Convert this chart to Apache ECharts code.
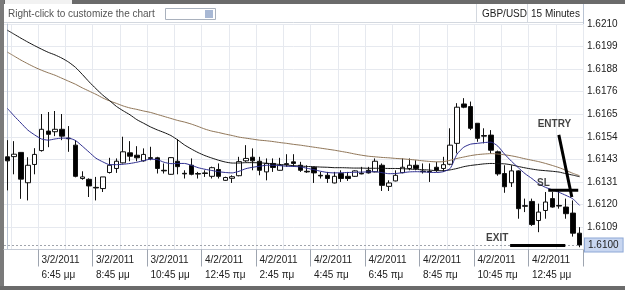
<!DOCTYPE html>
<html>
<head>
<meta charset="utf-8">
<script src="https://cdn.jsdelivr.net/npm/echarts@6/dist/echarts.min.js"></script>
<style>
html, body { margin: 0; padding: 0; background: #fff; }
#chart { width: 625px; height: 290px; }
</style>
</head>
<body>
<div id="chart"></div>
<script>
// GBP/USD, 15 minute bars
var times = [
	'3/2/2011 5:30 μμ', '3/2/2011 5:45 μμ', '3/2/2011 6:00 μμ', '3/2/2011 6:15 μμ', '3/2/2011 6:30 μμ', '3/2/2011 6:45 μμ', '3/2/2011 7:00 μμ', '3/2/2011 7:15 μμ',
	'3/2/2011 7:30 μμ', '3/2/2011 7:45 μμ', '3/2/2011 8:00 μμ', '3/2/2011 8:15 μμ', '3/2/2011 8:30 μμ', '3/2/2011 8:45 μμ', '3/2/2011 9:00 μμ', '3/2/2011 9:15 μμ',
	'3/2/2011 9:30 μμ', '3/2/2011 9:45 μμ', '3/2/2011 10:00 μμ', '3/2/2011 10:15 μμ', '3/2/2011 10:30 μμ', '3/2/2011 10:45 μμ', '3/2/2011 11:00 μμ', '3/2/2011 11:15 μμ',
	'3/2/2011 11:30 μμ', '3/2/2011 11:45 μμ', '4/2/2011 12:00 πμ', '4/2/2011 12:15 πμ', '4/2/2011 12:30 πμ', '4/2/2011 12:45 πμ', '4/2/2011 1:00 πμ', '4/2/2011 1:15 πμ',
	'4/2/2011 1:30 πμ', '4/2/2011 1:45 πμ', '4/2/2011 2:00 πμ', '4/2/2011 2:15 πμ', '4/2/2011 2:30 πμ', '4/2/2011 2:45 πμ', '4/2/2011 3:00 πμ', '4/2/2011 3:15 πμ',
	'4/2/2011 3:30 πμ', '4/2/2011 3:45 πμ', '4/2/2011 4:00 πμ', '4/2/2011 4:15 πμ', '4/2/2011 4:30 πμ', '4/2/2011 4:45 πμ', '4/2/2011 5:00 πμ', '4/2/2011 5:15 πμ',
	'4/2/2011 5:30 πμ', '4/2/2011 5:45 πμ', '4/2/2011 6:00 πμ', '4/2/2011 6:15 πμ', '4/2/2011 6:30 πμ', '4/2/2011 6:45 πμ', '4/2/2011 7:00 πμ', '4/2/2011 7:15 πμ',
	'4/2/2011 7:30 πμ', '4/2/2011 7:45 πμ', '4/2/2011 8:00 πμ', '4/2/2011 8:15 πμ', '4/2/2011 8:30 πμ', '4/2/2011 8:45 πμ', '4/2/2011 9:00 πμ', '4/2/2011 9:15 πμ',
	'4/2/2011 9:30 πμ', '4/2/2011 9:45 πμ', '4/2/2011 10:00 πμ', '4/2/2011 10:15 πμ', '4/2/2011 10:30 πμ', '4/2/2011 10:45 πμ', '4/2/2011 11:00 πμ', '4/2/2011 11:15 πμ',
	'4/2/2011 11:30 πμ', '4/2/2011 11:45 πμ', '4/2/2011 12:00 μμ', '4/2/2011 12:15 μμ', '4/2/2011 12:30 μμ', '4/2/2011 12:45 μμ', '4/2/2011 1:00 μμ', '4/2/2011 1:15 μμ',
	'4/2/2011 1:30 μμ', '4/2/2011 1:45 μμ', '4/2/2011 2:00 μμ', '4/2/2011 2:15 μμ', '4/2/2011 2:30 μμ'
];

// [open, close, low, high]
var candles = [
	[1.61439, 1.61419, 1.61272, 1.61522], [1.61440, 1.61452, 1.61352, 1.61517], [1.61461, 1.61328, 1.61230, 1.61462], [1.61310, 1.61397, 1.61222, 1.61437],
	[1.61401, 1.61451, 1.61352, 1.61482], [1.61470, 1.61576, 1.61465, 1.61652], [1.61567, 1.61551, 1.61487, 1.61662], [1.61564, 1.61576, 1.61542, 1.61667],
	[1.61576, 1.61542, 1.61522, 1.61652], [1.61532, 1.61529, 1.61464, 1.61592], [1.61497, 1.61342, 1.61337, 1.61522], [1.61331, 1.61339, 1.61325, 1.61367],
	[1.61327, 1.61294, 1.61239, 1.61332], [1.61287, 1.61284, 1.61222, 1.61339], [1.61281, 1.61339, 1.61264, 1.61339], [1.61361, 1.61397, 1.61356, 1.61434],
	[1.61381, 1.61417, 1.61359, 1.61431], [1.61409, 1.61464, 1.61406, 1.61539], [1.61459, 1.61442, 1.61417, 1.61517], [1.61447, 1.61434, 1.61417, 1.61492],
	[1.61419, 1.61451, 1.61415, 1.61481], [1.61435, 1.61431, 1.61422, 1.61489], [1.61434, 1.61381, 1.61356, 1.61439], [1.61372, 1.61369, 1.61356, 1.61406],
	[1.61352, 1.61435, 1.61350, 1.61437], [1.61417, 1.61390, 1.61352, 1.61527], [1.61357, 1.61354, 1.61331, 1.61372], [1.61397, 1.61352, 1.61347, 1.61431],
	[1.61356, 1.61353, 1.61331, 1.61364], [1.61359, 1.61356, 1.61339, 1.61372], [1.61342, 1.61385, 1.61331, 1.61390], [1.61376, 1.61342, 1.61331, 1.61406],
	[1.61322, 1.61336, 1.61319, 1.61340], [1.61332, 1.61340, 1.61309, 1.61347], [1.61345, 1.61415, 1.61342, 1.61439], [1.61419, 1.61431, 1.61414, 1.61497],
	[1.61437, 1.61419, 1.61372, 1.61481], [1.61417, 1.61372, 1.61347, 1.61439], [1.61364, 1.61406, 1.61322, 1.61431], [1.61406, 1.61386, 1.61364, 1.61431],
	[1.61372, 1.61397, 1.61370, 1.61434], [1.61405, 1.61401, 1.61389, 1.61452], [1.61414, 1.61406, 1.61389, 1.61452], [1.61397, 1.61372, 1.61364, 1.61414],
	[1.61367, 1.61364, 1.61359, 1.61397], [1.61387, 1.61359, 1.61309, 1.61389], [1.61347, 1.61344, 1.61331, 1.61364], [1.61347, 1.61331, 1.61309, 1.61364],
	[1.61309, 1.61342, 1.61307, 1.61364], [1.61356, 1.61331, 1.61314, 1.61372], [1.61342, 1.61331, 1.61319, 1.61364], [1.61342, 1.61369, 1.61339, 1.61372],
	[1.61357, 1.61354, 1.61352, 1.61389], [1.61372, 1.61359, 1.61356, 1.61389], [1.61364, 1.61417, 1.61362, 1.61431], [1.61397, 1.61297, 1.61269, 1.61406],
	[1.61292, 1.61309, 1.61269, 1.61322], [1.61319, 1.61347, 1.61317, 1.61372], [1.61360, 1.61387, 1.61357, 1.61431], [1.61381, 1.61397, 1.61372, 1.61431],
	[1.61397, 1.61381, 1.61372, 1.61422], [1.61368, 1.61365, 1.61356, 1.61406], [1.61366, 1.61363, 1.61314, 1.61406], [1.61387, 1.61372, 1.61364, 1.61414],
	[1.61381, 1.61400, 1.61364, 1.61439], [1.61402, 1.61497, 1.61397, 1.61581], [1.61506, 1.61686, 1.61456, 1.61706], [1.61702, 1.61686, 1.61681, 1.61731],
	[1.61689, 1.61581, 1.61572, 1.61714], [1.61606, 1.61531, 1.61514, 1.61607], [1.61545, 1.61542, 1.61506, 1.61581], [1.61547, 1.61472, 1.61456, 1.61572],
	[1.61464, 1.61354, 1.61345, 1.61470], [1.61356, 1.61290, 1.61260, 1.61397], [1.61310, 1.61369, 1.61289, 1.61397], [1.61369, 1.61181, 1.61131, 1.61372],
	[1.61196, 1.61193, 1.61164, 1.61231], [1.61217, 1.61102, 1.61095, 1.61231], [1.61122, 1.61164, 1.61064, 1.61206], [1.61172, 1.61214, 1.61131, 1.61264],
	[1.61231, 1.61189, 1.61186, 1.61264], [1.61197, 1.61194, 1.61181, 1.61272], [1.61189, 1.61156, 1.61131, 1.61231], [1.61159, 1.61059, 1.61042, 1.61222],
	[1.61059, 1.61000, 1.60989, 1.61089]
];

// moving averages
var maFast = [
	1.61680, 1.61642, 1.61607, 1.61572, 1.61548, 1.61528, 1.61522, 1.61528, 1.61532, 1.61532,
	1.61520, 1.61492, 1.61462, 1.61432, 1.61414, 1.61400, 1.61400, 1.61402, 1.61406, 1.61412,
	1.61420, 1.61427, 1.61425, 1.61412, 1.61405, 1.61406, 1.61406, 1.61397, 1.61385, 1.61377,
	1.61371, 1.61365, 1.61361, 1.61359, 1.61367, 1.61380, 1.61387, 1.61392, 1.61397, 1.61397,
	1.61395, 1.61392, 1.61391, 1.61389, 1.61382, 1.61375, 1.61367, 1.61361, 1.61359, 1.61360,
	1.61361, 1.61362, 1.61363, 1.61364, 1.61365, 1.61360, 1.61355, 1.61356, 1.61360, 1.61364,
	1.61365, 1.61364, 1.61362, 1.61361, 1.61365, 1.61381, 1.61452, 1.61487, 1.61502, 1.61506,
	1.61510, 1.61512, 1.61492, 1.61452, 1.61417, 1.61385, 1.61355, 1.61331, 1.61305, 1.61287,
	1.61275, 1.61262, 1.61247, 1.61230, 1.61197
];
var maMid = [
	1.62069, 1.62049, 1.62029, 1.62010, 1.61992, 1.61975, 1.61959, 1.61946, 1.61930, 1.61910,
	1.61884, 1.61849, 1.61812, 1.61778, 1.61746, 1.61719, 1.61690, 1.61668, 1.61648, 1.61624,
	1.61606, 1.61588, 1.61573, 1.61560, 1.61545, 1.61523, 1.61498, 1.61478, 1.61460, 1.61445,
	1.61433, 1.61422, 1.61413, 1.61408, 1.61408, 1.61410, 1.61410, 1.61409, 1.61407, 1.61404,
	1.61401, 1.61398, 1.61395, 1.61393, 1.61391, 1.61390, 1.61388, 1.61387, 1.61385, 1.61385,
	1.61384, 1.61383, 1.61383, 1.61382, 1.61382, 1.61382, 1.61381, 1.61381, 1.61380, 1.61378,
	1.61376, 1.61375, 1.61373, 1.61370, 1.61370, 1.61374, 1.61381, 1.61390, 1.61396, 1.61400,
	1.61404, 1.61406, 1.61405, 1.61404, 1.61399, 1.61391, 1.61384, 1.61378, 1.61373, 1.61370,
	1.61367, 1.61363, 1.61355, 1.61348, 1.61340
];
var maSlow = [
	1.61960, 1.61940, 1.61920, 1.61902, 1.61885, 1.61870, 1.61857, 1.61845, 1.61830, 1.61815,
	1.61800, 1.61782, 1.61766, 1.61750, 1.61732, 1.61717, 1.61705, 1.61692, 1.61682, 1.61675,
	1.61667, 1.61660, 1.61650, 1.61640, 1.61630, 1.61620, 1.61612, 1.61602, 1.61590, 1.61577,
	1.61567, 1.61560, 1.61552, 1.61545, 1.61537, 1.61532, 1.61527, 1.61522, 1.61519, 1.61515,
	1.61510, 1.61506, 1.61501, 1.61497, 1.61492, 1.61487, 1.61482, 1.61477, 1.61472, 1.61466,
	1.61460, 1.61453, 1.61447, 1.61442, 1.61439, 1.61436, 1.61434, 1.61431, 1.61429, 1.61426,
	1.61423, 1.61419, 1.61416, 1.61414, 1.61415, 1.61422, 1.61431, 1.61438, 1.61445, 1.61450,
	1.61453, 1.61455, 1.61453, 1.61449, 1.61444, 1.61437, 1.61429, 1.61422, 1.61415, 1.61406,
	1.61396, 1.61385, 1.61372, 1.61357, 1.61345
];

// price axis
var yLabels = ['1.6109', '1.6120', '1.6131', '1.6143', '1.6154', '1.6165', '1.6176', '1.6188', '1.6199', '1.6210'];
var yMin = 1.6097778;
var yMax = 1.6210;
var yStep = 0.0011222;
var lastPrice = 1.6100;

// hand drawn trade notes: [bar, price]
var entryLine = [[80.95, 1.61548], [82.86, 1.61239]];
var slLine = [[79.4, 1.61273], [83.8, 1.61273]];
var exitLine = [[73.8, 1.60998], [81.9, 1.60998]];
var notes = [
	{ name: 'ENTRY', value: [80.3, 1.61602] },
	{ name: 'SL', value: [78.7, 1.61305] },
	{ name: 'EXIT', value: [71.9, 1.61035] }
];

var FONT = 'Liberation Sans';

var myChart = echarts.init(document.getElementById('chart'));

function noteLine(data) {
	return {
		type: 'line',
		xAxisIndex: 1,
		data: data,
		symbol: 'none',
		silent: true,
		z: 5,
		lineStyle: { color: '#000', width: 3 }
	};
}

var option = {
	animation: false,
	backgroundColor: '#fff',
	grid: {
		left: 4,
		right: 42,
		top: 24,
		bottom: 40.5
	},
	xAxis: [
		{
			type: 'category',
			data: times,
			boundaryGap: true,
			axisLine: { lineStyle: { color: '#c5cbd5' } },
			axisTick: {
				show: true,
				interval: function(i) { return i % 8 === 5; },
				length: 17,
				lineStyle: { color: '#9ea5b0' }
			},
			axisLabel: {
				interval: function(i) { return i % 8 === 5; },
				align: 'left',
				margin: 3,
				fontSize: 10,
				lineHeight: 15,
				fontFamily: FONT,
				color: '#222',
				formatter: function(v) {
					var k = v.indexOf(' ');
					return v.slice(0, k) + '\n' + v.slice(k + 1);
				}
			},
			splitLine: {
				show: true,
				interval: function(i) { return i % 4 === 1; },
				lineStyle: { color: '#e6e9ef' }
			}
		},
		{
			type: 'value',
			show: false,
			min: -0.5,
			max: times.length - 0.5
		}
	],
	yAxis: {
		type: 'value',
		position: 'right',
		min: yMin,
		max: yMax,
		interval: yStep,
		axisLine: { show: true, lineStyle: { color: '#b9c3d3' } },
		axisTick: { show: false },
		axisLabel: {
			showMinLabel: false,
			margin: 4,
			fontSize: 10,
			fontFamily: FONT,
			color: '#222',
			formatter: function(v) {
				for (var i = 0; i < yLabels.length; i++) {
					if (Math.abs(parseFloat(yLabels[i]) - v) < 0.0005) return yLabels[i];
				}
				return '';
			}
		},
		splitLine: { lineStyle: { color: '#e6e9ef' } }
	},
	series: [
		{
			type: 'line', data: maSlow, symbol: 'none', smooth: 0.2, silent: true,
			lineStyle: { color: '#8f7557', width: 1 }
		},
		{
			type: 'line', data: maMid, symbol: 'none', smooth: 0.2, silent: true,
			lineStyle: { color: '#141414', width: 1 }
		},
		{
			type: 'line', data: maFast, symbol: 'none', smooth: 0.2, silent: true,
			lineStyle: { color: '#2d2d8f', width: 1 }
		},
		{
			type: 'candlestick',
			data: candles,
			barWidth: 5,
			silent: true,
			itemStyle: {
				color: '#fff',
				color0: '#000',
				borderColor: '#111',
				borderColor0: '#111',
				borderWidth: 1
			},
			markLine: {
				symbol: 'none',
				silent: true,
				data: [{ yAxis: lastPrice }],
				lineStyle: { color: '#a0a4ab', type: [2, 2], width: 1 },
				label: {
					position: 'end',
					distance: 2,
					formatter: lastPrice.toFixed(4),
					fontSize: 10,
					fontFamily: FONT,
					color: '#222',
					backgroundColor: '#c8d6f0',
					borderColor: '#8ea8d6',
					borderWidth: 1,
					padding: [2, 4, 1, 3]
				}
			}
		},
		noteLine(entryLine),
		noteLine(slLine),
		noteLine(exitLine),
		{
			type: 'scatter',
			xAxisIndex: 1,
			data: notes,
			symbolSize: 1,
			silent: true,
			z: 6,
			itemStyle: { color: 'rgba(0,0,0,0)' },
			label: {
				show: true,
				position: 'inside',
				formatter: '{b}',
				fontSize: 10,
				fontWeight: 'bold',
				fontFamily: FONT,
				color: '#111'
			}
		}
	],
	graphic: [
		// window frame
		{ type: 'rect', shape: { x: 0, y: 0, width: 625, height: 4 }, style: { fill: '#6b6b6b' }, silent: true },
		{ type: 'rect', shape: { x: 5, y: 0, width: 67, height: 4 }, style: { fill: '#f2f2f2' }, silent: true },
		{ type: 'rect', shape: { x: 0, y: 0, width: 4, height: 290 }, style: { fill: '#7a7a7a' }, silent: true },
		{ type: 'rect', shape: { x: 0, y: 286, width: 625, height: 4 }, style: { fill: '#6b6b6b' }, silent: true },
		// toolbar
		{ type: 'line', shape: { x1: 4, y1: 22.5, x2: 583, y2: 22.5 }, style: { stroke: '#d3d8df' }, silent: true },
		{ type: 'line', shape: { x1: 476.5, y1: 4, x2: 476.5, y2: 22 }, style: { stroke: '#d3d8df' }, silent: true },
		{ type: 'line', shape: { x1: 527.5, y1: 4, x2: 527.5, y2: 22 }, style: { stroke: '#d3d8df' }, silent: true },
		{ type: 'line', shape: { x1: 583.5, y1: 4, x2: 583.5, y2: 24 }, style: { stroke: '#b9c3d3' }, silent: true },
		{ type: 'text', left: 8, top: 9, style: { text: 'Right-click to customize the chart', fill: '#555', font: '10px "Liberation Sans"' }, silent: true },
		{ type: 'rect', shape: { x: 165.5, y: 8.5, width: 50, height: 11 }, style: { fill: '#fff', stroke: '#a9b1bd' }, silent: true },
		{ type: 'rect', shape: { x: 205, y: 10, width: 8, height: 8 }, style: { fill: '#a8b8d4' }, silent: true },
		{ type: 'text', left: 482, top: 9, style: { text: 'GBP/USD', fill: '#222', font: '10px "Liberation Sans"' }, silent: true },
		{ type: 'text', left: 531, top: 9, style: { text: '15 Minutes', fill: '#222', font: '10px "Liberation Sans"' }, silent: true }
	]
};
myChart.setOption(option);
</script>
</body>
</html>
